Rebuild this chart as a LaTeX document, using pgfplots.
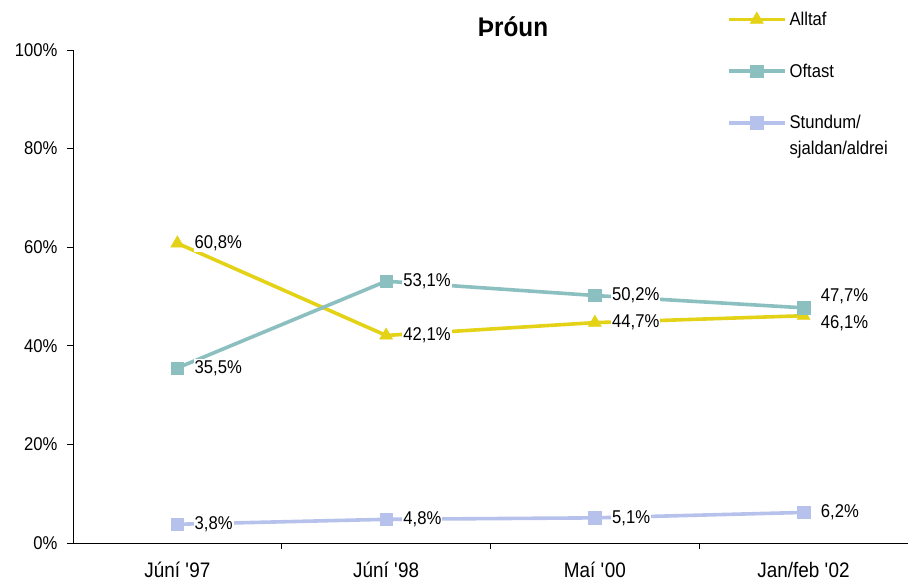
\documentclass[border=0pt]{standalone}
\usepackage{fontspec}
\setmainfont{Liberation Sans}[FakeStretch=0.9]
\usepackage{pgfplots}
\pgfplotsset{compat=1.18}
\usepackage{pgfplotstable}
\definecolor{cyel}{RGB}{228,210,22}
\definecolor{cteal}{RGB}{140,192,192}
\definecolor{clav}{RGB}{182,194,236}

\pgfplotstableread{
x y dy
0 60.8 0
1 42.1 0
2 44.7 0
3 46.1 -7
}\alltaf
\pgfplotstableread{
x y dy
0 35.5 0
1 53.1 0
2 50.2 0
3 47.7 12
}\oftast
\pgfplotstableread{
x y dy
0 3.8 0
1 4.8 0
2 5.1 0
3 6.2 0
}\stundum

\newcommand{\lf}{\fontsize{18.5}{22}\selectfont}
\newcommand{\legf}{\fontsize{18.5}{26}\selectfont}

\begin{document}
\begin{tikzpicture}
\useasboundingbox (-73pt,-41pt) rectangle (835pt,543pt);
\begin{axis}[
  scale only axis, width=835pt, height=493pt,
  at={(0,0)}, anchor=south west,
  xmin=-0.5, xmax=3.5, ymin=0, ymax=100,
  axis x line*=bottom, axis y line*=left,
  axis line style={black, line width=0.8pt, -},
  clip=false,
  xtick={0,1,2,3},
  xticklabels={J\'un\'i \textquotesingle97, J\'un\'i \textquotesingle98, Ma\'i \textquotesingle00, Jan/feb \textquotesingle02},
  major x tick style={draw=none},
  minor xtick={0.5,1.5,2.5},
  minor x tick style={black, line width=0.8pt},
  ytick={0,20,40,60,80,100},
  yticklabel={\pgfmathprintnumber{\tick}\%},
  y tick style={black, line width=0.8pt},
  tick align=outside,
  major tick length=6pt, minor tick length=6pt,
  /pgf/number format/assume math mode=true,
  tick label style={font=\lf},
  yticklabel style={xshift=-6pt},
  xticklabel style={font=\fontsize{21}{24}\selectfont, yshift=-10pt},
  title={Þróun},
  title style={font=\bfseries\fontsize{27}{30}\selectfont, at={(0.527,1)}, anchor=base, yshift=7pt},
  legend cell align=left,
  legend style={at={(0.783,1.087)}, anchor=north west, draw=none, fill=none,
    inner sep=0pt, row sep=32pt, font=\legf,
    nodes={inner sep=0pt, anchor=base west},
    /tikz/column sep=3pt},
  legend image code/.code={\draw[mark repeat=2,mark phase=2,#1] plot coordinates {(0pt,6pt) (28pt,6pt) (56pt,6pt)};},
  visualization depends on={\thisrow{dy}\as\dy},
  nodes near coords={\pgfmathprintnumber[fixed,precision=1,fixed zerofill,use comma,assume math mode=true]{\pgfplotspointmeta}\%},
  every node near coord/.append style={anchor=west, xshift=16pt, yshift=\dy pt, text=black, fill=white, inner sep=1pt, font=\lf},
]
\addplot[cyel, line width=3.6pt, mark=triangle*, mark size=7.5pt, mark options={solid, line width=0.5pt}] table[x=x,y=y] {\alltaf};
\addlegendentry{\begin{tabular}[t]{@{}l@{}}Alltaf\end{tabular}}
\addplot[cteal, line width=3.6pt, mark=square*, mark size=6.2pt, mark options={solid, line width=0.5pt}] table[x=x,y=y] {\oftast};
\addlegendentry{\begin{tabular}[t]{@{}l@{}}Oftast\end{tabular}}
\addplot[clav, line width=3.6pt, mark=square*, mark size=6.2pt, mark options={solid, line width=0.5pt}] table[x=x,y=y] {\stundum};
\addlegendentry{\begin{tabular}[t]{@{}l@{}}Stundum/\\sjaldan/aldrei\end{tabular}}
\end{axis}
\end{tikzpicture}
\end{document}
